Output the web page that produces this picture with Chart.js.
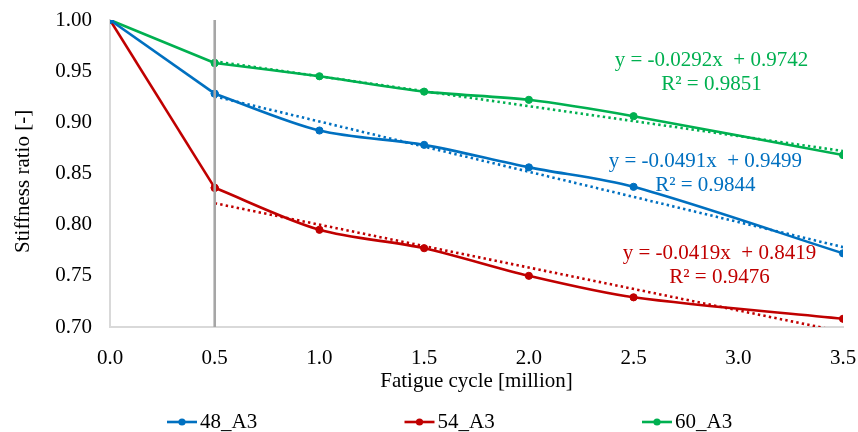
<!DOCTYPE html>
<html>
<head>
<meta charset="utf-8">
<script src="https://cdn.jsdelivr.net/npm/chart.js@4/dist/chart.umd.min.js"></script>
<style>
  html, body { margin: 0; padding: 0; background: #ffffff; }
  #wrap { width: 858px; height: 432px; position: relative; }
</style>
</head>
<body>
<div id="wrap"><canvas id="chart"></canvas></div>
<script>
// Fatigue cycles (million) at which stiffness was measured
const cycles = [0.0, 0.5, 1.0, 1.5, 2.0, 2.5, 3.5];

// Stiffness ratio per specimen
const seriesNames = ['48_A3', '54_A3', '60_A3'];
const stiffness48 = [1.000, 0.928, 0.892, 0.878, 0.856, 0.837, 0.772];
const stiffness54 = [1.000, 0.836, 0.795, 0.777, 0.750, 0.729, 0.708];
const stiffness60 = [1.000, 0.958, 0.945, 0.930, 0.922, 0.906, 0.868];

// Linear fits over the range after the first 0.5 million cycles
const fitSlopes = [-0.0491, -0.0419, -0.0292];
const fitIntercepts = [0.9499, 0.8419, 0.9742];
const fitR2 = [0.9844, 0.9476, 0.9851];
const fitRange = [0.5, 3.5];

// Reference cycle marked by the vertical line
const referenceCycle = 0.5;

// Axis ranges
const xRange = [0.0, 3.5];
const yRange = [0.70, 1.00];

const seriesValues = [stiffness48, stiffness54, stiffness60];
const colors = ['#0070C0', '#C00000', '#00B050'];
const FONT = "'Liberation Serif', 'Times New Roman', serif";
const FS = 21;

// index of the reference cycle: the initial drop up to it is drawn straight,
// the later history as a smoothed curve
const splitIndex = cycles.indexOf(referenceCycle);

function points(vals, from, to) {
  return cycles.slice(from, to).map((c, k) => ({ x: c, y: vals[from + k] }));
}

const datasets = [];
seriesValues.forEach((vals, i) => {
  const common = {
    borderColor: colors[i],
    backgroundColor: colors[i],
    borderWidth: 2.6,
    pointRadius: 3.6,
    pointBorderWidth: 1,
    order: 1
  };
  datasets.push(Object.assign({
    label: seriesNames[i],
    data: points(vals, splitIndex, cycles.length),
    tension: 0.3
  }, common));
  datasets.push(Object.assign({
    label: seriesNames[i] + ' initial',
    data: points(vals, 0, splitIndex + 1),
    tension: 0
  }, common));
});
seriesValues.forEach((vals, i) => {
  datasets.push({
    label: 'fit ' + seriesNames[i],
    data: fitRange.map(x => ({ x: x, y: fitSlopes[i] * x + fitIntercepts[i] })),
    borderColor: colors[i],
    borderWidth: 2.6,
    borderDash: [2.4, 3.2],
    pointRadius: 0,
    tension: 0,
    clip: 0,
    order: 2
  });
});
datasets.push({
  label: 'reference',
  data: [{ x: referenceCycle, y: yRange[0] }, { x: referenceCycle, y: yRange[1] }],
  borderColor: '#A6A6A6',
  borderWidth: 2.6,
  pointRadius: 0,
  order: -1
});

// Equation labels, anchored in data space
const labelAnchors = [
  { x: 2.843, y: 0.8622 },
  { x: 2.910, y: 0.7723 },
  { x: 2.872, y: 0.9609 }
];

function fmt4(v) { return v.toFixed(4); }

const fitLabelPlugin = {
  id: 'fitLabels',
  afterDatasetsDraw(chart) {
    const { ctx, scales: { x, y } } = chart;
    ctx.save();
    ctx.font = FS + 'px ' + FONT;
    ctx.textAlign = 'center';
    ctx.textBaseline = 'middle';
    labelAnchors.forEach((a, i) => {
      const px = x.getPixelForValue(a.x);
      const py = y.getPixelForValue(a.y);
      const sign = fitIntercepts[i] >= 0 ? '+ ' : '- ';
      const eq = 'y = ' + fmt4(fitSlopes[i]) + 'x  ' + sign + fmt4(Math.abs(fitIntercepts[i]));
      ctx.fillStyle = colors[i];
      ctx.fillText(eq, px, py);
      ctx.fillText('R\u00B2 = ' + fmt4(fitR2[i]), px, py + 24);
    });
    ctx.restore();
  }
};

const legendPlugin = {
  id: 'lineLegend',
  afterDraw(chart) {
    const { ctx } = chart;
    const startX = 167, step = 237.5, yMid = 422, lineLen = 30;
    ctx.save();
    ctx.font = FS + 'px ' + FONT;
    ctx.textAlign = 'left';
    ctx.textBaseline = 'middle';
    seriesNames.forEach((name, i) => {
      const x0 = startX + i * step;
      ctx.strokeStyle = colors[i];
      ctx.lineWidth = 2.6;
      ctx.beginPath();
      ctx.moveTo(x0, yMid);
      ctx.lineTo(x0 + lineLen, yMid);
      ctx.stroke();
      ctx.fillStyle = colors[i];
      ctx.beginPath();
      ctx.arc(x0 + lineLen / 2, yMid, 3.6, 0, Math.PI * 2);
      ctx.fill();
      ctx.fillStyle = '#000000';
      ctx.fillText(name, x0 + lineLen + 3, yMid);
    });
    ctx.restore();
  }
};

new Chart(document.getElementById('chart'), {
  type: 'line',
  data: { datasets: datasets },
  options: {
    responsive: true,
    maintainAspectRatio: false,
    devicePixelRatio: 1,
    animation: false,
    layout: { padding: { left: 0, right: 15, top: 20, bottom: 35 } },
    plugins: {
      legend: { display: false },
      tooltip: { enabled: false }
    },
    scales: {
      x: {
        type: 'linear',
        min: xRange[0],
        max: xRange[1],
        grid: { display: false, drawTicks: true, tickLength: 19 },
        border: { display: true, color: '#D9D9D9', width: 2 },
        ticks: {
          stepSize: 0.5,
          padding: 0,
          color: '#000000',
          font: { family: FONT, size: FS },
          callback: v => Number(v).toFixed(1)
        },
        title: {
          display: true,
          text: 'Fatigue cycle [million]',
          color: '#000000',
          font: { family: FONT, size: FS },
          padding: { top: 0, bottom: 3 }
        },
        afterFit(scale) { scale.height = 70; }
      },
      y: {
        min: yRange[0],
        max: yRange[1],
        grid: { display: false, drawTicks: true, tickLength: 18 },
        border: { display: true, color: '#D9D9D9', width: 2 },
        ticks: {
          stepSize: 0.05,
          padding: 0,
          color: '#000000',
          font: { family: FONT, size: FS },
          callback: v => Number(v).toFixed(2)
        },
        title: {
          display: true,
          text: 'Stiffness ratio [-]   ',
          color: '#000000',
          font: { family: FONT, size: FS },
          padding: { top: 11, bottom: 0 }
        },
        afterFit(scale) { scale.width = 110; }
      }
    }
  },
  plugins: [fitLabelPlugin, legendPlugin]
});
</script>
</body>
</html>
